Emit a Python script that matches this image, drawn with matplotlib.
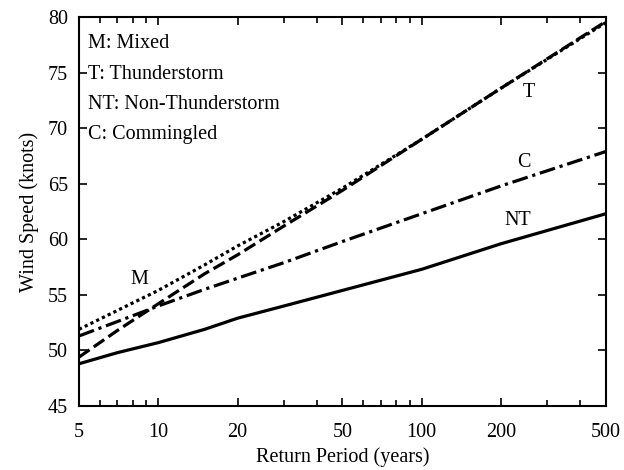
import matplotlib
matplotlib.use('Agg')
import matplotlib.pyplot as plt
from matplotlib.ticker import FixedLocator, NullFormatter

plt.rcParams['font.family'] = ['Liberation Serif', 'DejaVu Serif']

# return period (years)
period = [5, 7, 10, 15, 20, 30, 50, 100, 200, 500]

# wind speed (knots)
mixed    = [51.9, 53.6, 55.4, 57.7, 59.4, 61.6, 64.6, 69.0, 73.6, 79.5]
thunder  = [49.4, 51.8, 54.2, 56.9, 58.6, 61.2, 64.4, 69.0, 73.6, 79.6]
commingl = [51.3, 52.6, 54.0, 55.5, 56.5, 57.9, 59.8, 62.3, 64.8, 67.9]
non_th   = [48.8, 49.8, 50.7, 51.9, 52.9, 54.0, 55.4, 57.3, 59.6, 62.3]

xticks = [5, 10, 20, 50, 100, 200, 500]
yticks = [45, 50, 55, 60, 65, 70, 75, 80]

fig = plt.figure(figsize=(6.24, 4.70), dpi=100)
ax = fig.add_axes([0.1266, 0.1362, 0.8444, 0.8276])

ax.plot(period, non_th, color='black', lw=2.3, ls='-')
ax.plot(period, commingl, color='black', lw=2.3, ls=(0, (5, 1.5, 1, 1.5)))
ax.plot(period, thunder, color='black', lw=2.3, ls=(0, (4, 1.6)))
ax.plot(period, mixed, color='black', lw=2.3, ls=(0, (1, 1)))

ax.set_xscale('log')
ax.set_xlim(5, 500)
ax.set_ylim(45, 80)
ax.xaxis.set_major_locator(FixedLocator(xticks))
ax.set_xticklabels([str(t) for t in xticks])
ax.xaxis.set_minor_locator(FixedLocator([6, 7, 8, 9, 30, 40, 60, 70, 80, 90, 300, 400]))
ax.xaxis.set_minor_formatter(NullFormatter())
ax.set_yticks(yticks)

ax.tick_params(which='both', direction='in', top=True, right=True, labelsize=14.5, width=1.2)
ax.tick_params(which='major', length=6)
ax.tick_params(which='minor', length=4)
ax.tick_params(axis='x', pad=12)
ax.tick_params(axis='y', pad=8)
for s in ax.spines.values():
    s.set_linewidth(1.5)

ax.set_xlabel('Return Period (years)', fontsize=14.5, labelpad=4)
ax.set_ylabel('Wind Speed (knots)', fontsize=14.5, labelpad=6)

legend_lines = ['M: Mixed', 'T: Thunderstorm', 'NT: Non-Thunderstorm', 'C: Commingled']
for i, txt in enumerate(legend_lines):
    ax.text(0.017, 0.931 - i * 0.078, txt, transform=ax.transAxes,
            fontsize=14.5, va='center', ha='left')

ax.text(8.45, 56.4, 'M', fontsize=14.5, ha='center', va='center')
ax.text(255, 73.2, 'T', fontsize=14.5, ha='center', va='center')
ax.text(244, 66.95, 'C', fontsize=14.5, ha='center', va='center')
ax.text(232, 61.7, 'NT', fontsize=14.5, ha='center', va='center')

fig.savefig('out.png', dpi=100)
